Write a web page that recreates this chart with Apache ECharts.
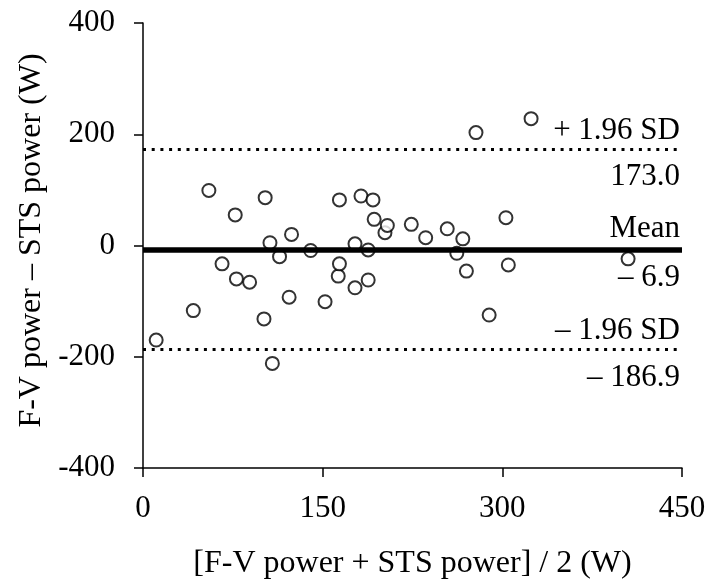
<!DOCTYPE html>
<html>
<head>
<meta charset="utf-8">
<script src="https://cdn.jsdelivr.net/npm/echarts@6/dist/echarts.min.js"></script>
<style>
html,body{margin:0;padding:0;background:#fff;}
#chart{width:709px;height:580px;}
</style>
</head>
<body>
<div id="chart"></div>
<script>
// Mean of the two methods (x) and their difference (y), in W
const meanPower = [11, 42, 55, 66, 77, 78, 89, 101, 102, 106, 108, 114, 122, 124, 140, 152, 163, 164, 164, 177,
                   177, 182, 188, 188, 192, 193, 202, 204, 224, 236, 254, 262, 267, 270, 278, 289, 303, 305, 324, 405];
const diffPower = [-170, -117, 99, -33, 55, -60, -66, -132, 86, 5, -212, -20, -93, 20, -9, -101, -55, -33, 82, 3,
                   -76, 89, -62, -8, 82, 47, 23, 36, 38, 14, 30, -14, 12, -46, 203, -125, 50, -35, 228, -24];
const meanBias = -6.9;
const upperLoA = 173.0;
const lowerLoA = -186.9;
const xTitle = '[F-V power + STS power] / 2 (W)';
const yTitle = 'F-V power \u2013 STS power (W)';

const font = "'Liberation Serif', 'Times New Roman', serif";
const fsTick = 31;
const fsTitle = 32;
const fsLbl = 31;

const points = meanPower.map((x, i) => [x, diffPower[i]]);

const dotStyle = {type: [3, 5.7], width: 3, color: '#000'};
const solidStyle = {type: 'solid', width: 5.5, color: '#000'};
const hidden = {type: 'solid', width: 1, color: 'rgba(0,0,0,0)'};
const lbl = (text, pos, dist) => ({
  show: true, formatter: text, position: pos, distance: dist,
  fontFamily: font, fontSize: fsLbl, color: '#000'
});

const chart = echarts.init(document.getElementById('chart'), null, {renderer: 'canvas'});
chart.setOption({
  animation: false,
  backgroundColor: '#fff',
  grid: {left: 143, right: 27, top: 23, bottom: 112, containLabel: false, outerBoundsMode: 'none'},
  xAxis: {
    type: 'value', min: 0, max: 450, interval: 150,
    name: xTitle, nameLocation: 'middle', nameGap: 80,
    nameTextStyle: {fontFamily: font, fontSize: fsTitle, color: '#000'},
    axisLine: {onZero: false, lineStyle: {color: '#000', width: 1.5}},
    axisTick: {show: true, inside: false, length: 9, lineStyle: {color: '#000', width: 1.5}},
    axisLabel: {fontFamily: font, fontSize: fsTick, color: '#000', margin: 25},
    splitLine: {show: false}
  },
  yAxis: {
    type: 'value', min: -400, max: 400, interval: 200,
    name: yTitle, nameLocation: 'middle', nameGap: 82, nameRotate: 90,
    nameTextStyle: {fontFamily: font, fontSize: fsTitle, color: '#000', padding: [0, 0, 0, 10]},
    axisLine: {onZero: false, lineStyle: {color: '#000', width: 1.5}},
    axisTick: {show: true, inside: false, length: 9, lineStyle: {color: '#000', width: 1.5}},
    axisLabel: {fontFamily: font, fontSize: fsTick, color: '#000', margin: 28},
    splitLine: {show: false}
  },
  series: [
    {
      type: 'scatter',
      data: points,
      symbol: 'circle',
      symbolSize: 13,
      itemStyle: {color: '#fff', borderColor: '#000', borderWidth: 2},
      z: 2,
      silent: true
    },
    {
      type: 'line',
      data: [],
      z: 5,
      silent: true,
      markLine: {
        silent: true,
        symbol: 'none',
        animation: false,
        data: [
          {yAxis: upperLoA, lineStyle: dotStyle, label: lbl('+ 1.96 SD', 'insideEndTop', [2, 3])},
          {yAxis: upperLoA, lineStyle: hidden, label: lbl(upperLoA.toFixed(1), 'insideEndBottom', [2, 12])},
          {yAxis: meanBias, lineStyle: solidStyle, label: lbl('Mean', 'insideEndTop', [2, 5])},
          {yAxis: meanBias, lineStyle: hidden, label: lbl('\u2013 ' + Math.abs(meanBias).toFixed(1), 'insideEndBottom', [2, 13])},
          {yAxis: lowerLoA, lineStyle: dotStyle, label: lbl('\u2013 1.96 SD', 'insideEndTop', [2, 3])},
          {yAxis: lowerLoA, lineStyle: hidden, label: lbl('\u2013 ' + Math.abs(lowerLoA).toFixed(1), 'insideEndBottom', [2, 13])}
        ]
      }
    }
  ]
});
</script>
</body>
</html>
